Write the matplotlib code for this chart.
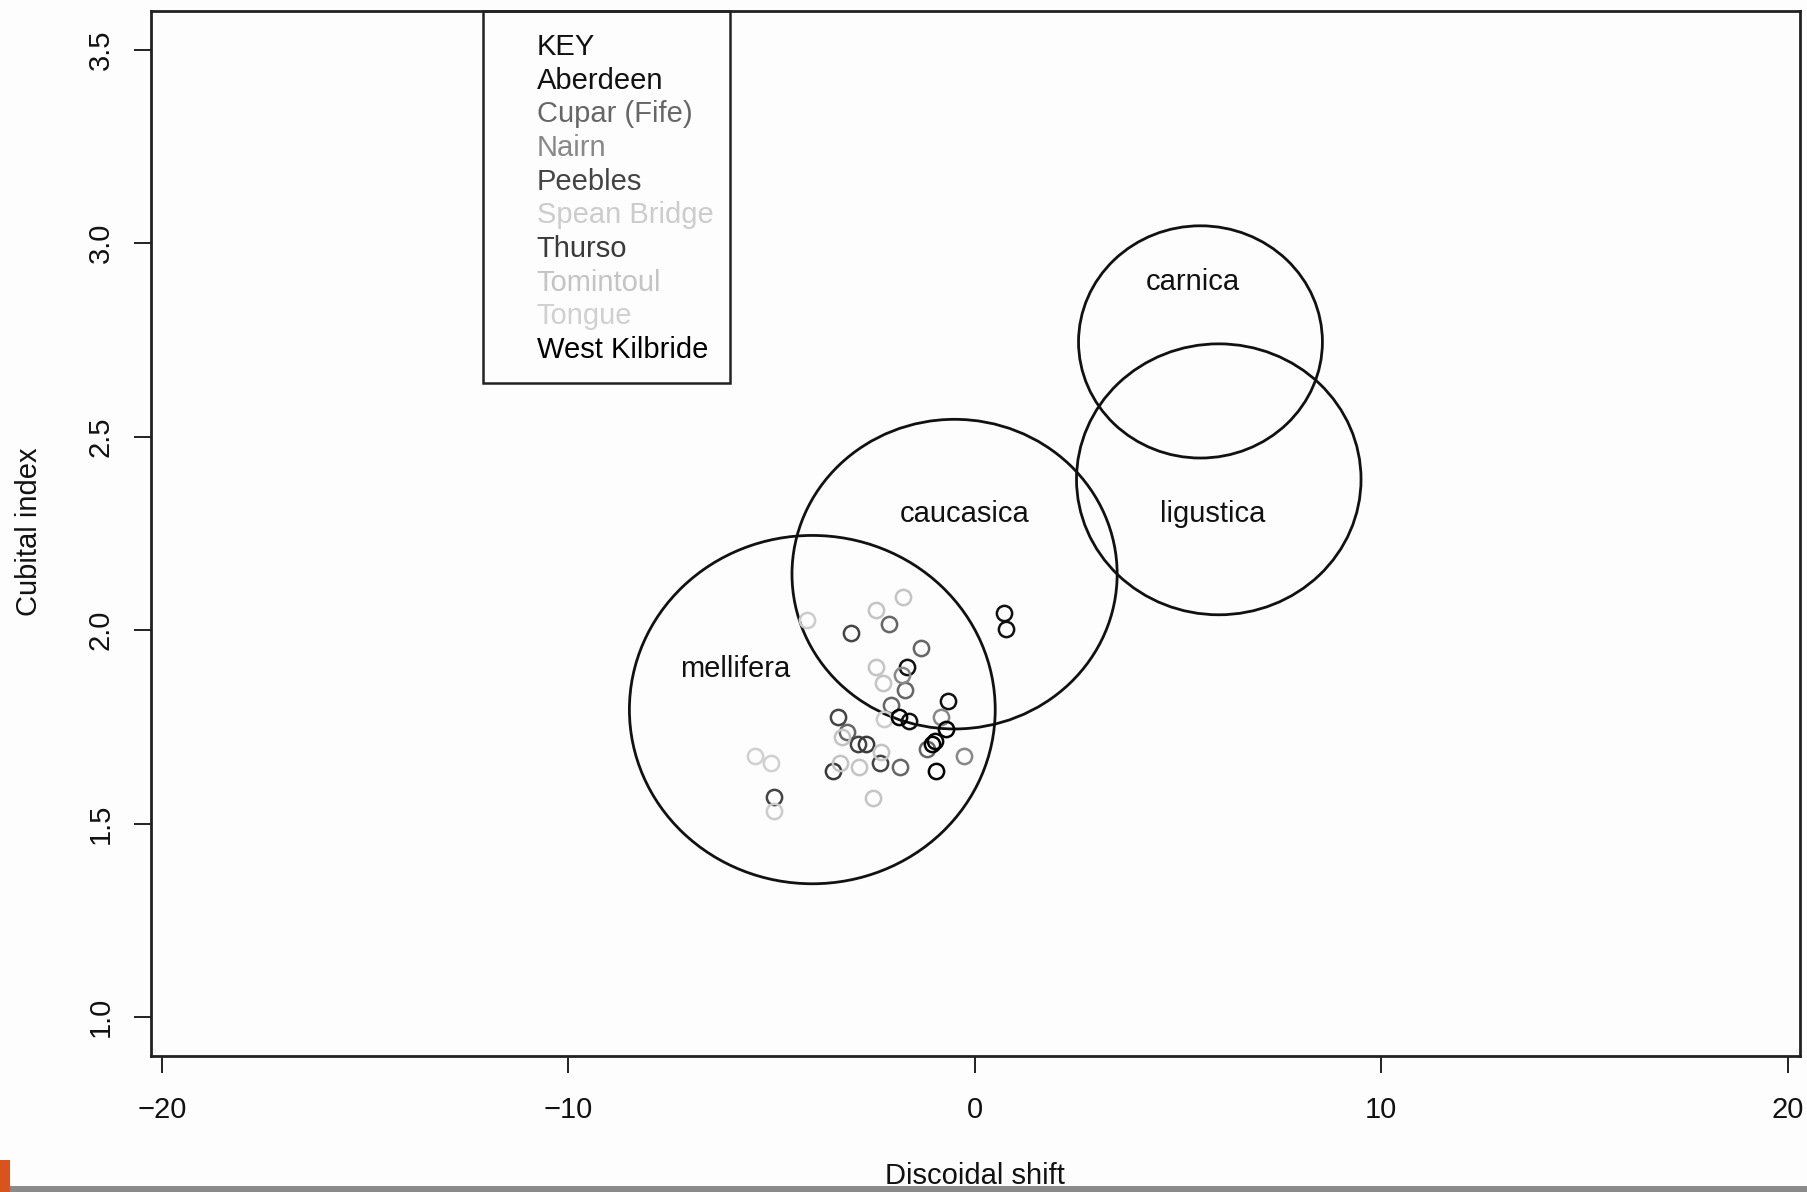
import matplotlib
matplotlib.use("Agg")
import matplotlib.pyplot as plt
from matplotlib.patches import Ellipse, Rectangle

plt.rcParams['font.family'] = ['Liberation Sans', 'DejaVu Sans']

# ---- data ----
races = ["carnica", "ligustica", "caucasica", "mellifera"]
race_cx = [5.55, 6.0, -0.5, -4.0]
race_cy = [2.745, 2.39, 2.145, 1.795]
race_rx = [3.0, 3.5, 4.0, 4.5]
race_ry = [0.30, 0.35, 0.40, 0.45]
race_label_x = [5.35, 5.85, -0.25, -5.9]
race_label_y = [2.90, 2.30, 2.30, 1.90]

key_title = "KEY"
sites = ["Aberdeen", "Cupar (Fife)", "Nairn", "Peebles", "Spean Bridge",
         "Thurso", "Tomintoul", "Tongue", "West Kilbride"]
site_colors = ["#111111", "#666666", "#888888", "#444444", "#cccccc",
               "#3a3a3a", "#c4c4c4", "#d0d0d0", "#000000"]

aberdeen_x = [0.71, 0.76, -1.66, -0.67, -1.63]
aberdeen_y = [2.044, 2.003, 1.904, 1.816, 1.766]
cupar_x = [-2.12, -1.33, -1.72, -2.07, -3.14, -1.17, -1.85]
cupar_y = [2.016, 1.954, 1.846, 1.806, 1.736, 1.693, 1.646]
nairn_x = [-1.79, -0.83, -0.27]
nairn_y = [1.885, 1.777, 1.674]
peebles_x = [-3.04, -3.37, -2.87, -2.34, -4.95]
peebles_y = [1.994, 1.777, 1.706, 1.656, 1.568]
spean_x = [-4.13, -2.24, -4.95]
spean_y = [2.026, 1.772, 1.534]
thurso_x = [-2.69, -3.49]
thurso_y = [1.706, 1.636]
tomintoul_x = [-1.76, -2.43, -2.44, -2.27, -3.26, -2.30, -3.31, -2.86, -2.51]
tomintoul_y = [2.085, 2.053, 1.906, 1.865, 1.723, 1.686, 1.658, 1.646, 1.567]
tongue_x = [-5.40, -5.01]
tongue_y = [1.676, 1.656]
westk_x = [-1.87, -0.70, -0.99, -1.05, -0.96]
westk_y = [1.777, 1.746, 1.715, 1.706, 1.636]

site_x = [aberdeen_x, cupar_x, nairn_x, peebles_x, spean_x,
          thurso_x, tomintoul_x, tongue_x, westk_x]
site_y = [aberdeen_y, cupar_y, nairn_y, peebles_y, spean_y,
          thurso_y, tomintoul_y, tongue_y, westk_y]

x_ticks = [-20, -10, 0, 10, 20]
y_ticks = [1.0, 1.5, 2.0, 2.5, 3.0, 3.5]
x_label = "Discoidal shift"
y_label = "Cubital index"

# ---- figure ----
W, H = 1808, 1192
fig = plt.figure(figsize=(W / 100, H / 100), dpi=100)
fig.patch.set_facecolor("#fdfdfd")
ax = fig.add_axes([151 / W, 1 - 1056 / H, (1800 - 151) / W, (1056 - 11) / H])
ax.set_facecolor("#fdfdfd")
ax.set_xlim(-20.27, 20.3)
ax.set_ylim(0.9, 3.6)

FS = 21
for s in ax.spines.values():
    s.set_linewidth(2.0)
    s.set_color("#222222")

ax.set_xticks(x_ticks)
ax.set_xticklabels([str(v).replace("-", "\u2212") for v in x_ticks])
ax.set_yticks(y_ticks)
ax.set_yticklabels([f"{v:.1f}" for v in y_ticks], rotation=90, va="center")
ax.tick_params(axis="both", length=12, width=1.4, color="#222222",
               labelsize=FS, labelcolor="#111111")
ax.tick_params(axis="x", pad=17)
ax.tick_params(axis="y", pad=14)

fig.text(29 / W, 1 - 532 / H, y_label, rotation=90, ha="center", va="center",
         fontsize=FS, color="#111111")
fig.text(975 / W, 1 - 1176 / H, x_label, ha="center", va="center",
         fontsize=FS, color="#111111")

# ellipses
for cx, cy, rx, ry in zip(race_cx, race_cy, race_rx, race_ry):
    ax.add_patch(Ellipse((cx, cy), 2 * rx, 2 * ry, fill=False,
                         edgecolor="#111111", linewidth=2.0, zorder=2))
for name, lx, ly in zip(races, race_label_x, race_label_y):
    ax.text(lx, ly, name, ha="center", va="center", fontsize=FS,
            color="#111111", zorder=3)

# points
for xs, ys, c in zip(site_x, site_y, site_colors):
    ax.plot(xs, ys, linestyle="none", marker="o", markersize=11,
            markerfacecolor="none", markeredgecolor=c, markeredgewidth=1.8,
            zorder=4)

# key box
ax.add_patch(Rectangle((-12.11, 2.638), 6.09, 3.6 - 2.638, fill=False,
                       edgecolor="#222222", linewidth=1.8, zorder=5,
                       clip_on=False))
ky0, dky = 3.507, 0.087
ax.text(-10.78, ky0, key_title, ha="left", va="center", fontsize=FS,
        color="#111111", zorder=6)
for i, (s, c) in enumerate(zip(sites, site_colors)):
    ax.text(-10.78, ky0 - (i + 1) * dky, s, ha="left", va="center",
            fontsize=FS, color=c, zorder=6)

# slide footer artifacts
fig.patches.append(Rectangle((0, 0), 1, 6 / H, transform=fig.transFigure,
                             facecolor="#8a8a8a", edgecolor="none", zorder=10))
fig.patches.append(Rectangle((0, 0), 10 / W, 32 / H, transform=fig.transFigure,
                             facecolor="#d9531e", edgecolor="none", zorder=11))

fig.savefig("out.png", dpi=100, facecolor=fig.get_facecolor())
